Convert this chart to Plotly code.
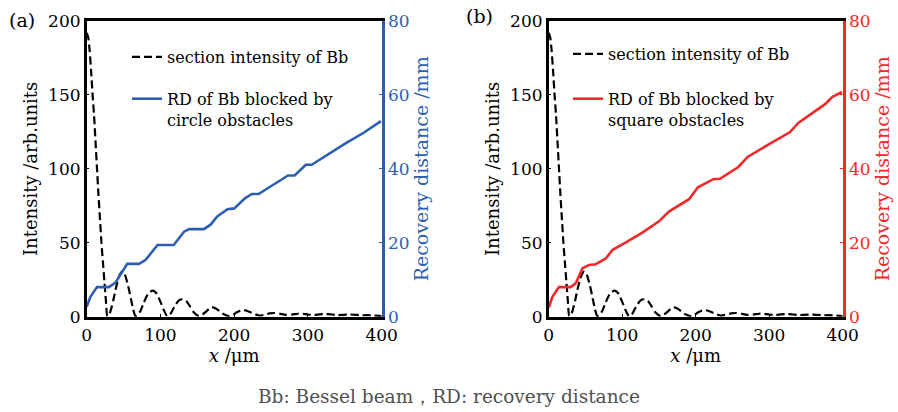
import plotly.graph_objects as go

# ---------------- data ----------------
x_int = [0, 2, 4, 6, 8, 10, 12, 14, 16, 18, 20, 22, 24, 26, 28, 31, 33, 36, 39, 42, 45, 48, 51, 54, 57, 60,
         63, 66, 69, 73, 77, 81, 85, 90, 95, 100, 105, 109, 113, 117, 121, 125, 130, 135, 140, 145, 152,
         157, 162, 166, 170, 175, 180, 186, 193, 198, 203, 208, 212, 217, 222, 228, 234, 240, 248, 255,
         262, 270, 278, 286, 293, 300, 308, 316, 324, 332, 340, 348, 356, 364, 372, 380, 388, 396, 400]
intensity = [192, 189, 180, 166, 150, 136, 118, 100, 82, 66, 50, 37, 24, 11, 0.5, 2, 5, 11, 18, 24, 28.5,
             30.5, 29.5, 25, 19, 12, 5, 0.5, 1, 4, 9, 13.5, 16.5, 17.6, 15.5, 10, 4, 0.5, 1.5, 5, 8.5, 11,
             11.8, 10.5, 7, 3, 0.5, 1.5, 3.5, 5.3, 6.3, 5.6, 3.8, 1.6, 0.4, 1.2, 2.8, 4, 4.5, 4, 3, 1.7,
             0.8, 1.2, 2.2, 2.5, 2, 1.3, 1.4, 2, 2, 1.5, 1.2, 1.6, 1.8, 1.5, 1.1, 1.3, 1.5, 1.3, 1, 1,
             0.9, 0.5, 0.4]

x_circ = [0, 5, 14, 30, 39, 55, 71, 80, 96, 118, 132, 139, 159, 168, 177, 191, 200, 215, 224, 233,
          253, 273, 282, 291, 297, 305, 330, 352, 375, 399]
rd_circle = [2.7, 5.4, 8.0, 8.0, 9.2, 14.3, 14.3, 15.4, 19.4, 19.4, 23.0, 23.7, 23.7, 24.9, 27.1, 29.1,
             29.3, 32.1, 33.2, 33.2, 35.7, 38.2, 38.2, 39.8, 41.1, 41.1, 44.3, 47.0, 49.7, 52.9]

x_sq = [0, 5, 14, 30, 37, 46, 55, 64, 78, 87, 105, 128, 150, 164, 191, 203, 224, 233, 258, 271, 301,
        328, 340, 364, 376, 386, 399]
rd_square = [2.5, 5.4, 8.0, 8.0, 9.1, 13.1, 14.0, 14.2, 15.8, 18.1, 20.1, 22.8, 25.8, 28.5, 31.8, 35.0,
             37.2, 37.3, 40.5, 43.3, 46.8, 49.9, 52.5, 55.8, 57.5, 59.5, 60.8]

x_ticks = [0, 100, 200, 300, 400]
int_ticks = [0, 50, 100, 150, 200]
rd_ticks = [0, 20, 40, 60, 80]

BLUE = "#2c5fb3"
RED = "#f42828"
FONT = "DejaVu Serif"

W, H = 898, 412
ytop, ybot = 21, 316.7
ydom = [(H - ybot) / H, (H - ytop) / H]
xdomA = [86.7 / W, 381.7 / W]
xdomB = [548.7 / W, 842.7 / W]

fig = go.Figure()

def add_panel(xa, ya, ya2, color, label, legend, rdx, rdy):
    fig.add_trace(go.Scatter(x=x_int, y=intensity, mode="lines", xaxis=xa, yaxis=ya,
                             name="section intensity of Bb", legend=legend, legendgroup="g1",
                             line=dict(color="black", width=2.2, dash="8px,4px", shape="spline", smoothing=0.6)))
    fig.add_trace(go.Scatter(x=rdx, y=rdy, mode="lines", xaxis=xa, yaxis=ya2,
                             name=label, legend=legend, legendgroup="g2",
                             line=dict(color=color, width=2.6)))

add_panel("x", "y", "y2", BLUE, "RD of Bb blocked by<br>circle obstacles", "legend", x_circ, rd_circle)
add_panel("x2", "y3", "y4", RED, "RD of Bb blocked by<br>square obstacles", "legend2", x_sq, rd_square)

tickfont = dict(family=FONT, size=17, color="black")
common_x = dict(range=[0, 400], tickvals=x_ticks, showline=True, linecolor="black", linewidth=2.5,
                mirror=True, ticks="inside", ticklen=3, tickcolor="black", showgrid=False, zeroline=False,
                tickfont=tickfont, automargin=False, ticklabelstandoff=1,
                title=dict(text="<i>x</i> /μm", font=dict(family=FONT, size=18, color="black"), standoff=1))
fig.update_layout(
    xaxis=dict(domain=xdomA, anchor="y", **common_x),
    xaxis2=dict(domain=xdomB, anchor="y3", **common_x),
)

def yleft(anchor):
    return dict(domain=ydom, anchor=anchor, range=[0, 200], tickvals=int_ticks, showline=True,
                linecolor="black", linewidth=2.5, ticks="inside", ticklen=3, tickcolor="black",
                showgrid=False, zeroline=False, tickfont=tickfont, automargin=False,
                title=dict(text="Intensity /arb.units", font=dict(family=FONT, size=18, color="black"),
                           standoff=6))

def yright(anchor, overl, color):
    return dict(domain=ydom, anchor=anchor, overlaying=overl, side="right", range=[0, 80],
                tickvals=rd_ticks, showline=True, linecolor=color, linewidth=2.8, ticks="inside",
                ticklen=3, tickcolor=color, showgrid=False, zeroline=False, automargin=False,
                tickfont=dict(family=FONT, size=17, color=color),
                title=dict(text="Recovery distance /mm", font=dict(family=FONT, size=19, color=color),
                           standoff=6))

fig.update_layout(
    yaxis=yleft("x"),
    yaxis2=yright("x", "y", BLUE),
    yaxis3=yleft("x2"),
    yaxis4=yright("x2", "y3", RED),
)

legfont = dict(family=FONT, size=16, color="black")
fig.update_layout(
    legend=dict(x=127 / W, y=(H - 40) / H, xanchor="left", yanchor="top", bgcolor="rgba(0,0,0,0)",
                font=legfont, tracegroupgap=18, valign="top", traceorder="grouped"),
    legend2=dict(x=568 / W, y=(H - 37) / H, xanchor="left", yanchor="top", bgcolor="rgba(0,0,0,0)",
                 font=legfont, tracegroupgap=21, valign="top", traceorder="grouped"),
    showlegend=True,
)

fig.add_annotation(text="(a)", x=7 / W, y=(H - 20) / H, xref="paper", yref="paper", xanchor="left",
                   yanchor="middle", showarrow=False, font=dict(family=FONT, size=19, color="black"))
fig.add_annotation(text="(b)", x=464 / W, y=(H - 16) / H, xref="paper", yref="paper", xanchor="left",
                   yanchor="middle", showarrow=False, font=dict(family=FONT, size=19, color="black"))
fig.add_annotation(text="Bb: Bessel beam，RD: recovery distance", x=0.5, y=(H - 396) / H, xref="paper",
                   yref="paper", xanchor="center", yanchor="middle", showarrow=False,
                   font=dict(family=FONT, size=18.5, color="#505050"))

fig.update_layout(width=W, height=H, margin=dict(l=0, r=0, t=0, b=0), plot_bgcolor="white",
                  paper_bgcolor="white", font=dict(family=FONT, color="black"))

fig.write_html("out.html")
